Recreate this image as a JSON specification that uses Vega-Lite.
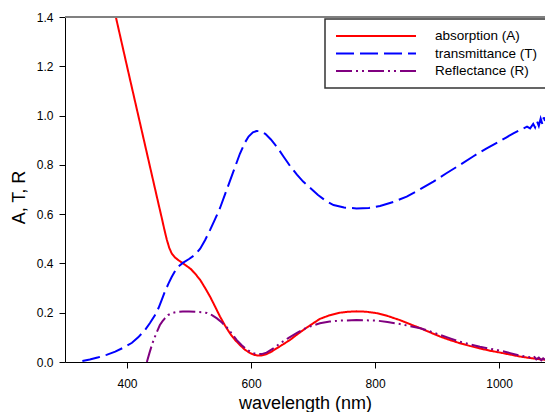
{
  "$schema": "https://vega.github.io/schema/vega-lite/v6.json",
  "width": 480,
  "height": 345,
  "autosize": {"type": "none"},
  "padding": {"left": 65, "top": 17, "right": 0, "bottom": 50},
  "background": "white",
  "config": {"view": {"stroke": null}, "font": "Liberation Sans"},
  "datasets": {
    "curves": [
      {"wavelength": 375, "value": 1.477, "series": "absorption (A)"},
      {"wavelength": 382, "value": 1.40, "series": "absorption (A)"},
      {"wavelength": 400, "value": 1.20, "series": "absorption (A)"},
      {"wavelength": 420, "value": 0.98, "series": "absorption (A)"},
      {"wavelength": 440, "value": 0.76, "series": "absorption (A)"},
      {"wavelength": 450, "value": 0.65, "series": "absorption (A)"},
      {"wavelength": 456, "value": 0.585, "series": "absorption (A)"},
      {"wavelength": 460, "value": 0.54, "series": "absorption (A)"},
      {"wavelength": 464, "value": 0.498, "series": "absorption (A)"},
      {"wavelength": 468, "value": 0.464, "series": "absorption (A)"},
      {"wavelength": 472, "value": 0.441, "series": "absorption (A)"},
      {"wavelength": 477, "value": 0.425, "series": "absorption (A)"},
      {"wavelength": 483, "value": 0.413, "series": "absorption (A)"},
      {"wavelength": 490, "value": 0.401, "series": "absorption (A)"},
      {"wavelength": 496, "value": 0.39, "series": "absorption (A)"},
      {"wavelength": 503, "value": 0.377, "series": "absorption (A)"},
      {"wavelength": 510, "value": 0.358, "series": "absorption (A)"},
      {"wavelength": 518, "value": 0.333, "series": "absorption (A)"},
      {"wavelength": 526, "value": 0.30, "series": "absorption (A)"},
      {"wavelength": 534, "value": 0.265, "series": "absorption (A)"},
      {"wavelength": 542, "value": 0.225, "series": "absorption (A)"},
      {"wavelength": 550, "value": 0.184, "series": "absorption (A)"},
      {"wavelength": 558, "value": 0.148, "series": "absorption (A)"},
      {"wavelength": 566, "value": 0.116, "series": "absorption (A)"},
      {"wavelength": 574, "value": 0.09, "series": "absorption (A)"},
      {"wavelength": 582, "value": 0.069, "series": "absorption (A)"},
      {"wavelength": 590, "value": 0.05, "series": "absorption (A)"},
      {"wavelength": 598, "value": 0.037, "series": "absorption (A)"},
      {"wavelength": 605, "value": 0.029, "series": "absorption (A)"},
      {"wavelength": 612, "value": 0.026, "series": "absorption (A)"},
      {"wavelength": 618, "value": 0.027, "series": "absorption (A)"},
      {"wavelength": 625, "value": 0.032, "series": "absorption (A)"},
      {"wavelength": 633, "value": 0.042, "series": "absorption (A)"},
      {"wavelength": 641, "value": 0.055, "series": "absorption (A)"},
      {"wavelength": 652, "value": 0.072, "series": "absorption (A)"},
      {"wavelength": 663, "value": 0.09, "series": "absorption (A)"},
      {"wavelength": 676, "value": 0.115, "series": "absorption (A)"},
      {"wavelength": 690, "value": 0.14, "series": "absorption (A)"},
      {"wavelength": 711, "value": 0.175, "series": "absorption (A)"},
      {"wavelength": 727, "value": 0.19, "series": "absorption (A)"},
      {"wavelength": 743, "value": 0.2, "series": "absorption (A)"},
      {"wavelength": 757, "value": 0.204, "series": "absorption (A)"},
      {"wavelength": 770, "value": 0.2055, "series": "absorption (A)"},
      {"wavelength": 786, "value": 0.204, "series": "absorption (A)"},
      {"wavelength": 803, "value": 0.198, "series": "absorption (A)"},
      {"wavelength": 820, "value": 0.187, "series": "absorption (A)"},
      {"wavelength": 840, "value": 0.17, "series": "absorption (A)"},
      {"wavelength": 856, "value": 0.154, "series": "absorption (A)"},
      {"wavelength": 873, "value": 0.137, "series": "absorption (A)"},
      {"wavelength": 889, "value": 0.12, "series": "absorption (A)"},
      {"wavelength": 905, "value": 0.103, "series": "absorption (A)"},
      {"wavelength": 921, "value": 0.089, "series": "absorption (A)"},
      {"wavelength": 937, "value": 0.076, "series": "absorption (A)"},
      {"wavelength": 953, "value": 0.065, "series": "absorption (A)"},
      {"wavelength": 969, "value": 0.055, "series": "absorption (A)"},
      {"wavelength": 985, "value": 0.046, "series": "absorption (A)"},
      {"wavelength": 1002, "value": 0.038, "series": "absorption (A)"},
      {"wavelength": 1018, "value": 0.03, "series": "absorption (A)"},
      {"wavelength": 1034, "value": 0.022, "series": "absorption (A)"},
      {"wavelength": 1050, "value": 0.016, "series": "absorption (A)"},
      {"wavelength": 1066, "value": 0.011, "series": "absorption (A)"},
      {"wavelength": 1074, "value": 0.009, "series": "absorption (A)"},

      {"wavelength": 328, "value": 0.004, "series": "transmittance (T)"},
      {"wavelength": 340, "value": 0.01, "series": "transmittance (T)"},
      {"wavelength": 354, "value": 0.019, "series": "transmittance (T)"},
      {"wavelength": 367, "value": 0.029, "series": "transmittance (T)"},
      {"wavelength": 381, "value": 0.042, "series": "transmittance (T)"},
      {"wavelength": 394, "value": 0.058, "series": "transmittance (T)"},
      {"wavelength": 408, "value": 0.078, "series": "transmittance (T)"},
      {"wavelength": 418, "value": 0.1, "series": "transmittance (T)"},
      {"wavelength": 429, "value": 0.13, "series": "transmittance (T)"},
      {"wavelength": 437, "value": 0.158, "series": "transmittance (T)"},
      {"wavelength": 445, "value": 0.19, "series": "transmittance (T)"},
      {"wavelength": 451, "value": 0.22, "series": "transmittance (T)"},
      {"wavelength": 456, "value": 0.252, "series": "transmittance (T)"},
      {"wavelength": 461, "value": 0.285, "series": "transmittance (T)"},
      {"wavelength": 467, "value": 0.319, "series": "transmittance (T)"},
      {"wavelength": 472, "value": 0.345, "series": "transmittance (T)"},
      {"wavelength": 477, "value": 0.367, "series": "transmittance (T)"},
      {"wavelength": 483, "value": 0.388, "series": "transmittance (T)"},
      {"wavelength": 490, "value": 0.402, "series": "transmittance (T)"},
      {"wavelength": 500, "value": 0.418, "series": "transmittance (T)"},
      {"wavelength": 510, "value": 0.436, "series": "transmittance (T)"},
      {"wavelength": 518, "value": 0.46, "series": "transmittance (T)"},
      {"wavelength": 526, "value": 0.495, "series": "transmittance (T)"},
      {"wavelength": 534, "value": 0.536, "series": "transmittance (T)"},
      {"wavelength": 542, "value": 0.58, "series": "transmittance (T)"},
      {"wavelength": 550, "value": 0.625, "series": "transmittance (T)"},
      {"wavelength": 558, "value": 0.68, "series": "transmittance (T)"},
      {"wavelength": 566, "value": 0.735, "series": "transmittance (T)"},
      {"wavelength": 574, "value": 0.79, "series": "transmittance (T)"},
      {"wavelength": 582, "value": 0.845, "series": "transmittance (T)"},
      {"wavelength": 590, "value": 0.89, "series": "transmittance (T)"},
      {"wavelength": 596, "value": 0.915, "series": "transmittance (T)"},
      {"wavelength": 603, "value": 0.932, "series": "transmittance (T)"},
      {"wavelength": 609, "value": 0.9375, "series": "transmittance (T)"},
      {"wavelength": 616, "value": 0.936, "series": "transmittance (T)"},
      {"wavelength": 623, "value": 0.926, "series": "transmittance (T)"},
      {"wavelength": 632, "value": 0.903, "series": "transmittance (T)"},
      {"wavelength": 642, "value": 0.872, "series": "transmittance (T)"},
      {"wavelength": 652, "value": 0.835, "series": "transmittance (T)"},
      {"wavelength": 663, "value": 0.795, "series": "transmittance (T)"},
      {"wavelength": 674, "value": 0.76, "series": "transmittance (T)"},
      {"wavelength": 684, "value": 0.732, "series": "transmittance (T)"},
      {"wavelength": 696, "value": 0.705, "series": "transmittance (T)"},
      {"wavelength": 708, "value": 0.678, "series": "transmittance (T)"},
      {"wavelength": 720, "value": 0.655, "series": "transmittance (T)"},
      {"wavelength": 733, "value": 0.637, "series": "transmittance (T)"},
      {"wavelength": 750, "value": 0.627, "series": "transmittance (T)"},
      {"wavelength": 770, "value": 0.623, "series": "transmittance (T)"},
      {"wavelength": 790, "value": 0.625, "series": "transmittance (T)"},
      {"wavelength": 808, "value": 0.633, "series": "transmittance (T)"},
      {"wavelength": 830, "value": 0.65, "series": "transmittance (T)"},
      {"wavelength": 851, "value": 0.671, "series": "transmittance (T)"},
      {"wavelength": 872, "value": 0.70, "series": "transmittance (T)"},
      {"wavelength": 894, "value": 0.732, "series": "transmittance (T)"},
      {"wavelength": 915, "value": 0.766, "series": "transmittance (T)"},
      {"wavelength": 937, "value": 0.80, "series": "transmittance (T)"},
      {"wavelength": 958, "value": 0.834, "series": "transmittance (T)"},
      {"wavelength": 980, "value": 0.867, "series": "transmittance (T)"},
      {"wavelength": 1000, "value": 0.895, "series": "transmittance (T)"},
      {"wavelength": 1012, "value": 0.912, "series": "transmittance (T)"},
      {"wavelength": 1023, "value": 0.928, "series": "transmittance (T)"},
      {"wavelength": 1035, "value": 0.943, "series": "transmittance (T)"},
      {"wavelength": 1045, "value": 0.955, "series": "transmittance (T)"},
      {"wavelength": 1050, "value": 0.948, "series": "transmittance (T)"},
      {"wavelength": 1055, "value": 0.966, "series": "transmittance (T)"},
      {"wavelength": 1058, "value": 0.952, "series": "transmittance (T)"},
      {"wavelength": 1061, "value": 0.978, "series": "transmittance (T)"},
      {"wavelength": 1064, "value": 0.958, "series": "transmittance (T)"},
      {"wavelength": 1067, "value": 0.988, "series": "transmittance (T)"},
      {"wavelength": 1070, "value": 0.963, "series": "transmittance (T)"},
      {"wavelength": 1072, "value": 0.993, "series": "transmittance (T)"},
      {"wavelength": 1074, "value": 0.978, "series": "transmittance (T)"},

      {"wavelength": 432, "value": 0.0, "series": "Reflectance (R)"},
      {"wavelength": 436, "value": 0.035, "series": "Reflectance (R)"},
      {"wavelength": 441, "value": 0.076, "series": "Reflectance (R)"},
      {"wavelength": 447, "value": 0.115, "series": "Reflectance (R)"},
      {"wavelength": 453, "value": 0.15, "series": "Reflectance (R)"},
      {"wavelength": 457, "value": 0.165, "series": "Reflectance (R)"},
      {"wavelength": 461, "value": 0.177, "series": "Reflectance (R)"},
      {"wavelength": 466, "value": 0.19, "series": "Reflectance (R)"},
      {"wavelength": 472, "value": 0.198, "series": "Reflectance (R)"},
      {"wavelength": 480, "value": 0.203, "series": "Reflectance (R)"},
      {"wavelength": 490, "value": 0.2045, "series": "Reflectance (R)"},
      {"wavelength": 500, "value": 0.2045, "series": "Reflectance (R)"},
      {"wavelength": 510, "value": 0.2035, "series": "Reflectance (R)"},
      {"wavelength": 520, "value": 0.202, "series": "Reflectance (R)"},
      {"wavelength": 529, "value": 0.199, "series": "Reflectance (R)"},
      {"wavelength": 537, "value": 0.19, "series": "Reflectance (R)"},
      {"wavelength": 545, "value": 0.177, "series": "Reflectance (R)"},
      {"wavelength": 553, "value": 0.16, "series": "Reflectance (R)"},
      {"wavelength": 561, "value": 0.14, "series": "Reflectance (R)"},
      {"wavelength": 569, "value": 0.115, "series": "Reflectance (R)"},
      {"wavelength": 577, "value": 0.089, "series": "Reflectance (R)"},
      {"wavelength": 585, "value": 0.068, "series": "Reflectance (R)"},
      {"wavelength": 593, "value": 0.051, "series": "Reflectance (R)"},
      {"wavelength": 601, "value": 0.038, "series": "Reflectance (R)"},
      {"wavelength": 609, "value": 0.032, "series": "Reflectance (R)"},
      {"wavelength": 617, "value": 0.032, "series": "Reflectance (R)"},
      {"wavelength": 625, "value": 0.038, "series": "Reflectance (R)"},
      {"wavelength": 636, "value": 0.055, "series": "Reflectance (R)"},
      {"wavelength": 647, "value": 0.076, "series": "Reflectance (R)"},
      {"wavelength": 660, "value": 0.097, "series": "Reflectance (R)"},
      {"wavelength": 674, "value": 0.118, "series": "Reflectance (R)"},
      {"wavelength": 690, "value": 0.14, "series": "Reflectance (R)"},
      {"wavelength": 711, "value": 0.157, "series": "Reflectance (R)"},
      {"wavelength": 727, "value": 0.164, "series": "Reflectance (R)"},
      {"wavelength": 743, "value": 0.168, "series": "Reflectance (R)"},
      {"wavelength": 770, "value": 0.17, "series": "Reflectance (R)"},
      {"wavelength": 803, "value": 0.168, "series": "Reflectance (R)"},
      {"wavelength": 820, "value": 0.162, "series": "Reflectance (R)"},
      {"wavelength": 840, "value": 0.154, "series": "Reflectance (R)"},
      {"wavelength": 856, "value": 0.146, "series": "Reflectance (R)"},
      {"wavelength": 873, "value": 0.137, "series": "Reflectance (R)"},
      {"wavelength": 889, "value": 0.124, "series": "Reflectance (R)"},
      {"wavelength": 905, "value": 0.11, "series": "Reflectance (R)"},
      {"wavelength": 921, "value": 0.096, "series": "Reflectance (R)"},
      {"wavelength": 937, "value": 0.082, "series": "Reflectance (R)"},
      {"wavelength": 953, "value": 0.072, "series": "Reflectance (R)"},
      {"wavelength": 969, "value": 0.062, "series": "Reflectance (R)"},
      {"wavelength": 985, "value": 0.054, "series": "Reflectance (R)"},
      {"wavelength": 1002, "value": 0.046, "series": "Reflectance (R)"},
      {"wavelength": 1018, "value": 0.036, "series": "Reflectance (R)"},
      {"wavelength": 1034, "value": 0.026, "series": "Reflectance (R)"},
      {"wavelength": 1050, "value": 0.019, "series": "Reflectance (R)"},
      {"wavelength": 1056, "value": 0.024, "series": "Reflectance (R)"},
      {"wavelength": 1060, "value": 0.011, "series": "Reflectance (R)"},
      {"wavelength": 1064, "value": 0.018, "series": "Reflectance (R)"},
      {"wavelength": 1068, "value": 0.007, "series": "Reflectance (R)"},
      {"wavelength": 1071, "value": 0.015, "series": "Reflectance (R)"},
      {"wavelength": 1074, "value": 0.009, "series": "Reflectance (R)"}
    ],
    "frame": [{"top": 1.4}]
  },
  "layer": [
    {
      "data": {"name": "curves"},
      "mark": {"type": "line", "strokeWidth": 2, "clip": true},
      "encoding": {
        "x": {
          "field": "wavelength",
          "type": "quantitative",
          "scale": {"domain": [300, 1074], "nice": false, "zero": false},
          "axis": {
            "values": [400, 600, 800, 1000],
            "format": "d",
            "title": "wavelength (nm)",
            "grid": false,
            "domainColor": "#000",
            "tickColor": "#000",
            "tickSize": 6,
            "labelPadding": 10,
            "labelFontSize": 12,
            "labelColor": "#000",
            "labelFont": "Liberation Sans",
            "titleFont": "Liberation Sans",
            "titleFontSize": 18,
            "titleFontWeight": "normal",
            "titleColor": "#000",
            "titleBaseline": "alphabetic",
            "titleY": 46,
            "titleX": 240
          }
        },
        "y": {
          "field": "value",
          "type": "quantitative",
          "scale": {"domain": [0, 1.4], "nice": false},
          "axis": {
            "values": [0, 0.2, 0.4, 0.6, 0.8, 1.0, 1.2, 1.4],
            "format": ".1f",
            "title": "A, T, R",
            "grid": false,
            "domainColor": "#000",
            "tickColor": "#000",
            "tickSize": 6,
            "labelPadding": 6,
            "labelFontSize": 12,
            "labelColor": "#000",
            "labelFont": "Liberation Sans",
            "titleFont": "Liberation Sans",
            "titleFontSize": 18,
            "titleFontWeight": "normal",
            "titleColor": "#000",
            "titleAngle": -90,
            "titleBaseline": "alphabetic",
            "titleX": -41,
            "titleY": 180
          }
        },
        "color": {
          "field": "series",
          "type": "nominal",
          "scale": {
            "domain": ["absorption (A)", "transmittance (T)", "Reflectance (R)"],
            "range": ["#ff0000", "#0000ff", "#800080"]
          },
          "legend": {
            "title": null,
            "orient": "none",
            "legendX": 260,
            "legendY": 2,
            "symbolType": "stroke",
            "symbolSize": 6400,
            "symbolStrokeWidth": 2,
            "clipHeight": 14,
            "rowPadding": 3.5,
            "padding": 10,
            "labelOffset": 18,
            "labelFontSize": 13.5,
            "labelFont": "Liberation Sans",
            "labelColor": "#000",
            "labelLimit": 300,
            "strokeColor": "#333",
            "fillColor": "white",
            "encode": {"legend": {"update": {"strokeWidth": {"value": 1.5}}}}
          }
        },
        "strokeDash": {
          "field": "series",
          "type": "nominal",
          "scale": {
            "domain": ["absorption (A)", "transmittance (T)", "Reflectance (R)"],
            "range": [[1, 0], [18, 6], [16, 4, 2, 4, 2, 4]]
          },
          "legend": {
            "title": null,
            "orient": "none",
            "legendX": 260,
            "legendY": 2,
            "symbolType": "stroke",
            "symbolSize": 6400,
            "symbolStrokeWidth": 2,
            "clipHeight": 14,
            "rowPadding": 3.5,
            "padding": 10,
            "labelOffset": 18,
            "labelFontSize": 13.5,
            "labelFont": "Liberation Sans",
            "labelColor": "#000",
            "labelLimit": 300,
            "strokeColor": "#333",
            "fillColor": "white",
            "encode": {"legend": {"update": {"strokeWidth": {"value": 1.5}}}}
          }
        }
      }
    },
    {
      "data": {"name": "frame"},
      "mark": {"type": "rule", "color": "#808080", "strokeWidth": 2},
      "encoding": {"y": {"field": "top", "type": "quantitative"}}
    }
  ]
}
